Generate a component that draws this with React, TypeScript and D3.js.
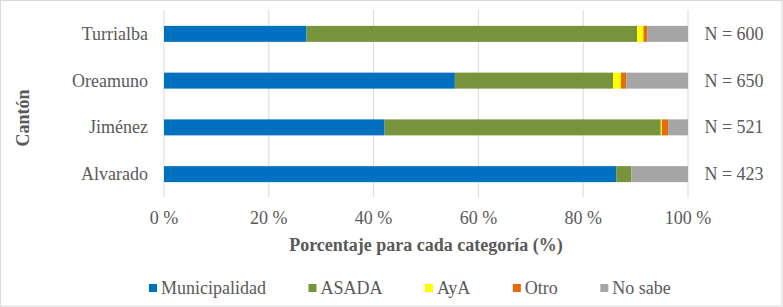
import React from "react";
import * as d3 from "d3";

const categories = ["Turrialba", "Oreamuno", "Jiménez", "Alvarado"];
const seriesNames = ["Municipalidad", "ASADA", "AyA", "Otro", "No sabe"];
const municipalidad = [27.2, 55.5, 42.1, 86.3];
const asada = [63.1, 30.2, 52.7, 2.9];
const aya = [1.2, 1.5, 0.2, 0];
const otro = [0.7, 1.0, 1.2, 0];
const noSabe = [7.8, 11.8, 3.8, 10.8];
const nLabels = ["N = 600", "N = 650", "N = 521", "N = 423"];
const xTicks = [0, 20, 40, 60, 80, 100];
const colors = ["#0070C0", "#77933C", "#FFFF00", "#E46C0A", "#A6A6A6"];

const W = 783;
const H = 307;
const FONT = "Liberation Serif";
const TEXT = "#595959";

function measure(text: string, font: string): number {
  const c = document.createElement("canvas");
  const ctx = c.getContext("2d")!;
  ctx.font = font;
  return ctx.measureText(text).width;
}

const ts = (bold = false): React.CSSProperties => ({
  fontFamily: FONT,
  fontSize: "18px",
  fontWeight: bold ? "bold" : "normal",
  fill: TEXT,
});

export default function App() {
  const rows = categories.map((c, i) => ({
    cat: c,
    Municipalidad: municipalidad[i],
    ASADA: asada[i],
    AyA: aya[i],
    Otro: otro[i],
    "No sabe": noSabe[i],
  }));
  const stack = d3.stack<any>().keys(seriesNames)(rows);

  const x = d3.scaleLinear().domain([0, 100]).range([164, 688]);
  const y = d3
    .scaleBand<string>()
    .domain(categories)
    .range([10.5, 197.5])
    .paddingInner(0.658)
    .paddingOuter(0.329);

  const legendFont = `18px "Liberation Serif"`;
  let lx = 149;
  const legendItems = seriesNames.map((name, i) => {
    const item = { name, color: colors[i], x: lx };
    lx += 8 + 4 + measure(name, legendFont) + 42.5;
    return item;
  });

  return (
    <svg
      width={W}
      height={H}
      style={{ position: "absolute", left: 0, top: 0, background: "#fff" }}
    >
      <rect x={0.5} y={0.5} width={W - 1.5} height={H - 1.5} fill="#fff" stroke="#D9D9D9" strokeWidth={1} />
      {xTicks.map((t) => (
        <line key={t} x1={x(t)} x2={x(t)} y1={10} y2={197} stroke="#D9D9D9" strokeWidth={1} />
      ))}
      {stack.map((s, si) =>
        s.map((d, di) => (
          <rect
            key={`${si}-${di}`}
            x={x(d[0])}
            width={Math.max(0, x(d[1]) - x(d[0]))}
            y={y(categories[di])}
            height={y.bandwidth()}
            fill={colors[si]}
          />
        ))
      )}
      {categories.map((c) => (
        <text
          key={c}
          x={148}
          y={(y(c) as number) + y.bandwidth() / 2}
          textAnchor="end"
          dominantBaseline="central"
          style={ts()}
        >
          {c}
        </text>
      ))}
      {categories.map((c, i) => (
        <text
          key={"n" + c}
          x={734}
          y={(y(c) as number) + y.bandwidth() / 2}
          textAnchor="middle"
          dominantBaseline="central"
          style={ts()}
        >
          {nLabels[i]}
        </text>
      ))}
      {xTicks.map((t) => (
        <text key={"t" + t} x={x(t)} y={224} textAnchor="middle" style={ts()}>
          {`${t} %`}
        </text>
      ))}
      <text x={(x(0) + x(100)) / 2} y={251} textAnchor="middle" style={ts(true)}>
        Porcentaje para cada categoría (%)
      </text>
      <text
        transform={`translate(23,118) rotate(-90)`}
        textAnchor="middle"
        dominantBaseline="central"
        style={ts(true)}
      >
        Cantón
      </text>
      {legendItems.map((it) => (
        <g key={it.name}>
          <rect x={it.x} y={284} width={8} height={8} fill={it.color} />
          <text x={it.x + 12} y={294} style={ts()}>
            {it.name}
          </text>
        </g>
      ))}
    </svg>
  );
}
